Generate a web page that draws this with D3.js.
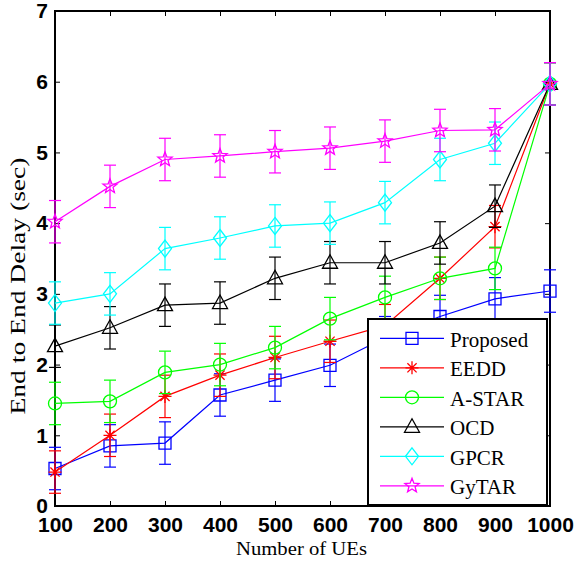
<!DOCTYPE html>
<html><head><meta charset="utf-8">
<script src="https://cdn.jsdelivr.net/npm/d3@7"></script>
<style>body{margin:0;background:#fff}svg{display:block}</style>
</head><body>
<script>
const categories = [100,200,300,400,500,600,700,800,900,1000];
const yTicks = [0,1,2,3,4,5,6,7];
const seriesNames = ["Proposed","EEDD","A-STAR","OCD","GPCR","GyTAR"];
const proposed = [0.53,0.85,0.89,1.57,1.78,1.99,2.38,2.68,2.93,3.04];
const eedd     = [0.48,1.00,1.55,1.85,2.10,2.33,2.55,3.22,3.95,5.97];
const astar    = [1.45,1.48,1.89,2.00,2.24,2.65,2.95,3.22,3.36,5.97];
const ocd      = [2.26,2.52,2.84,2.87,3.22,3.44,3.44,3.72,4.24,5.97];
const gpcr     = [2.87,3.00,3.64,3.79,3.96,4.00,4.29,4.90,5.13,5.97];
const gytar    = [4.02,4.52,4.90,4.95,5.01,5.06,5.16,5.31,5.32,5.97];
const errProposed = [0.3,0.3,0.3,0.3,0.3,0.3,0.3,0.3,0.3,0.3];
const errEedd     = [0.3,0.3,0.3,0.3,0.3,0.3,0.3,0.3,0.3,0.3];
const errAstar    = [0.3,0.3,0.3,0.3,0.3,0.3,0.3,0.3,0.3,0.3];
const errOcd      = [0.3,0.3,0.3,0.3,0.3,0.3,0.3,0.3,0.3,0.3];
const errGpcr     = [0.3,0.3,0.3,0.3,0.3,0.3,0.3,0.3,0.3,0.3];
const errGytar    = [0.3,0.3,0.3,0.3,0.3,0.3,0.3,0.3,0.3,0.3];
const colors = ["#0000ff","#ff0000","#00ff00","#000000","#00ffff","#ff00ff"];
const markers = ["square","asterisk","circle","triangle","diamond","star"];

const seriesValues = [proposed,eedd,astar,ocd,gpcr,gytar];
const seriesErr = [errProposed,errEedd,errAstar,errOcd,errGpcr,errGytar];

const W=575,H=563;
const L=55,R=550,T=11,B=506;
const svg=d3.select("body").append("svg").attr("width",W).attr("height",H);
const x=d3.scalePoint().domain(categories).range([L,R]);
const y=d3.scaleLinear().domain([0,7]).range([B,T]);

function markerPath(type){
  if(type==="square") return "M-6,-6H6V6H-6Z";
  if(type==="circle") return d3.symbol().type(d3.symbolCircle).size(Math.PI*6.5*6.5)();
  if(type==="triangle") return "M0,-8L7.5,5.5H-7.5Z";
  if(type==="diamond") return "M0,-8.5L6.5,0L0,8.5L-6.5,0Z";
  if(type==="asterisk") return "M-6.5,0H6.5M0,-6.5V6.5M-4.6,-4.6L4.6,4.6M-4.6,4.6L4.6,-4.6";
  if(type==="star"){
    let p=[];
    for(let i=0;i<10;i++){const r=i%2?3.2:7.5;const a=-Math.PI/2+i*Math.PI/5;p.push([r*Math.cos(a),r*Math.sin(a)]);}
    return "M"+p.map(d=>d[0].toFixed(2)+","+d[1].toFixed(2)).join("L")+"Z";
  }
}

const g=svg.append("g");
const axB=d3.axisBottom(x).tickSizeInner(-5).tickSizeOuter(0).tickPadding(11);
const axT=d3.axisTop(x).tickSizeInner(-5).tickSizeOuter(0).tickFormat("");
const axL=d3.axisLeft(y).tickValues(yTicks).tickFormat(d3.format("d")).tickSizeInner(-5).tickSizeOuter(0).tickPadding(7);
const axR=d3.axisRight(y).tickValues(yTicks).tickSizeInner(-5).tickSizeOuter(0).tickFormat("");
g.append("g").attr("transform",`translate(0,${B})`).call(axB);
g.append("g").attr("transform",`translate(0,${T})`).call(axT);
g.append("g").attr("transform",`translate(${L},0)`).call(axL);
g.append("g").attr("transform",`translate(${R},0)`).call(axR);
g.selectAll(".domain").remove();
g.selectAll(".tick line").attr("stroke","#000").attr("stroke-width",1);
g.selectAll(".tick text").attr("font-family","Liberation Sans, Arial, sans-serif").attr("font-weight","bold").attr("font-size",21).attr("fill","#000");
g.selectAll(".tick").filter(d=>d===0||d===7||d===100||d===1000).select("line").remove();

svg.append("rect").attr("x",L).attr("y",T).attr("width",R-L).attr("height",B-T).attr("fill","none").attr("stroke","#000").attr("stroke-width",2);

seriesValues.forEach((vals,si)=>{
  const sg=svg.append("g");
  const col=colors[si];
  const errs=seriesErr[si];
  vals.forEach((v,i)=>{
    const cx=x(categories[i]), e=errs[i];
    sg.append("line").attr("x1",cx).attr("x2",cx).attr("y1",y(v-e)).attr("y2",y(v+e)).attr("stroke",col).attr("stroke-width",1.2);
    [v-e,v+e].forEach(w=>sg.append("line").attr("x1",cx-6).attr("x2",cx+6).attr("y1",y(w)).attr("y2",y(w)).attr("stroke",col).attr("stroke-width",1.2));
  });
  const line=d3.line().x((d,i)=>x(categories[i])).y(d=>y(d));
  sg.append("path").attr("d",line(vals)).attr("fill","none").attr("stroke",col).attr("stroke-width",1.2);
  vals.forEach((v,i)=>{
    sg.append("path").attr("d",markerPath(markers[si])).attr("transform",`translate(${x(categories[i])},${y(v)})`)
      .attr("fill","none").attr("stroke",col).attr("stroke-width",1.3);
  });
});

const lg=svg.append("g");
lg.append("rect").attr("x",368).attr("y",319).attr("width",179).attr("height",186).attr("fill","#fff").attr("stroke","#000").attr("stroke-width",2);
seriesNames.forEach((n,i)=>{
  const ly=338.3+i*29.5;
  lg.append("line").attr("x1",380).attr("x2",444).attr("y1",ly).attr("y2",ly).attr("stroke",colors[i]).attr("stroke-width",1.3);
  lg.append("path").attr("d",markerPath(markers[i])).attr("transform",`translate(412,${ly})`).attr("fill","none").attr("stroke",colors[i]).attr("stroke-width",1.3);
  lg.append("text").attr("x",450).attr("y",ly).attr("dy","0.4em").attr("font-family","Liberation Serif, Times New Roman, serif").attr("font-size",21).attr("fill","#000").text(n);
});

svg.append("text").attr("x",301.5).attr("y",555).attr("text-anchor","middle").attr("font-family","Liberation Serif, Times New Roman, serif").attr("font-size",19.5).attr("textLength",131).attr("lengthAdjust","spacingAndGlyphs").attr("fill","#000").text("Number of UEs");
svg.append("text").attr("transform",`translate(24.5,286) rotate(-90)`).attr("text-anchor","middle").attr("font-family","Liberation Serif, Times New Roman, serif").attr("font-size",22).attr("textLength",257).attr("lengthAdjust","spacingAndGlyphs").attr("fill","#000").text("End to End Delay (sec)");
</script>
</body></html>
